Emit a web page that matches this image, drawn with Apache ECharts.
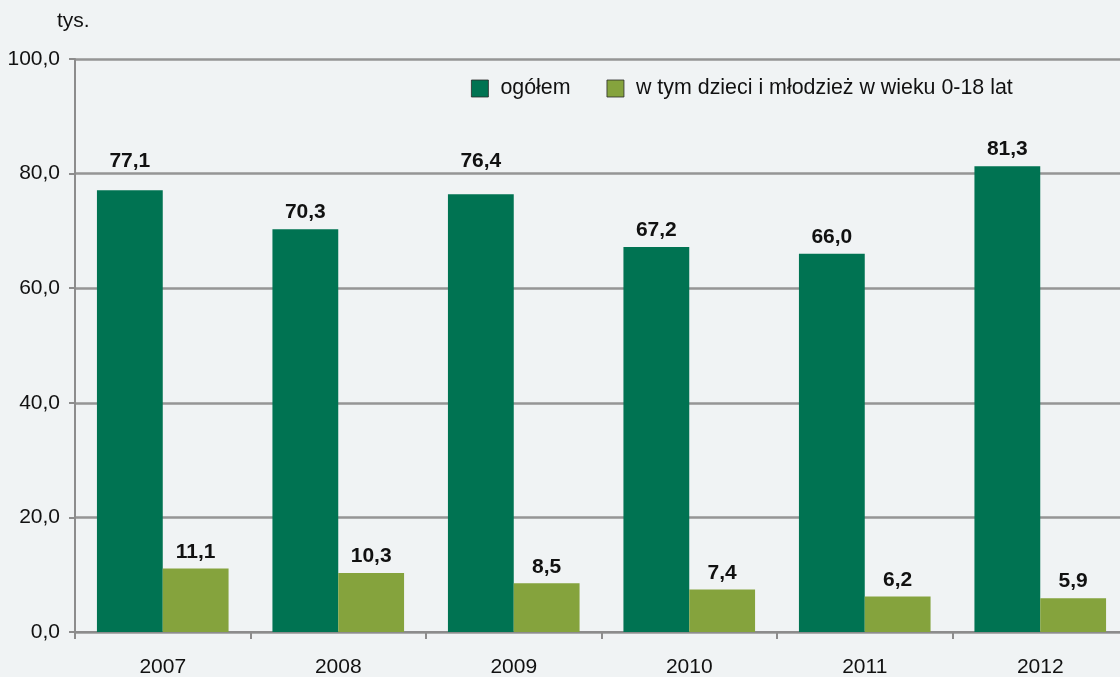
<!DOCTYPE html>
<html><head><meta charset="utf-8">
<script src="https://cdn.jsdelivr.net/npm/echarts@6/dist/echarts.min.js"></script>
<style>html,body{margin:0;padding:0;background:#f0f3f4;}#c{width:1120px;height:677px;}</style>
</head><body><div id="c"></div>
<script>
const years = ['2007','2008','2009','2010','2011','2012'];
const total = [77.1, 70.3, 76.4, 67.2, 66.0, 81.3];
const youth = [11.1, 10.3, 8.5, 7.4, 6.2, 5.9];
const seriesNames = ['ogółem', 'w tym dzieci i młodzież w wieku 0-18 lat'];
const fmt = v => v.toFixed(1).replace('.', ',');

const gridTop = 59, gridH = 573, yMax = 100, yStep = 20;
const pxPerUnit = gridH / yMax;
const labelDist = 6, labelHalf = 11;
// shift labels that would sit on a gridline to just above it
function labelOffset(v) {
  const centerVal = v + (labelDist + labelHalf) / pxPerUnit;
  const g = Math.round(centerVal / yStep) * yStep;
  if (g > 0 && Math.abs(centerVal - g) * pxPerUnit < 9) {
    const target = g + 13 / pxPerUnit;
    return [0, -Math.round((target - centerVal) * pxPerUnit)];
  }
  return [0, 0];
}
const lbl = {show:true, position:'top', distance:labelDist, fontFamily:'Liberation Sans, Arial', fontWeight:'bold', fontSize:21, color:'#111', formatter:p=>fmt(p.value)};
const mk = arr => arr.map(v => ({value:v, label:{offset:labelOffset(v)}}));

const chart = echarts.init(document.getElementById('c'));
chart.setOption({
  backgroundColor:'#f0f3f4',
  animation:false,
  textStyle:{fontFamily:'Liberation Sans, Arial'},
  title:{text:'tys.', left:57, top:11, padding:0, textStyle:{fontSize:21, fontWeight:'normal', color:'#111', fontFamily:'Liberation Sans, Arial'}},
  legend:{left:471, top:78, padding:0, itemWidth:17, itemHeight:17, itemGap:36, icon:'rect',
    itemStyle:{borderColor:'#2a2a2a', borderWidth:0.8},
    textStyle:{fontSize:21.4, color:'#111', fontFamily:'Liberation Sans, Arial', padding:[0,0,0,7]}},
  grid:{left:75, width:1053, top:gridTop, height:gridH, containLabel:false, outerBoundsMode:'none'},
  xAxis:{type:'category', data:years,
    axisLine:{lineStyle:{color:'#8c8c8c', width:2}},
    axisTick:{show:true, length:7, lineStyle:{color:'#8c8c8c', width:2}},
    axisLabel:{fontSize:21, color:'#111', margin:25}},
  yAxis:{type:'value', min:0, max:yMax, interval:yStep,
    axisLine:{show:true, lineStyle:{color:'#8c8c8c', width:2}},
    axisTick:{show:true, length:6, lineStyle:{color:'#8c8c8c', width:2}},
    splitLine:{lineStyle:{color:'#959595', width:2.5}},
    axisLabel:{fontSize:21, color:'#111', margin:15, formatter:v=>fmt(v)}},
  series:[
    {name:seriesNames[0], type:'bar', data:mk(total), barGap:'0%', barCategoryGap:'25%', itemStyle:{color:'#007352'}, label:lbl},
    {name:seriesNames[1], type:'bar', data:mk(youth), itemStyle:{color:'#85a33d'}, label:lbl}
  ]
});
</script></body></html>
